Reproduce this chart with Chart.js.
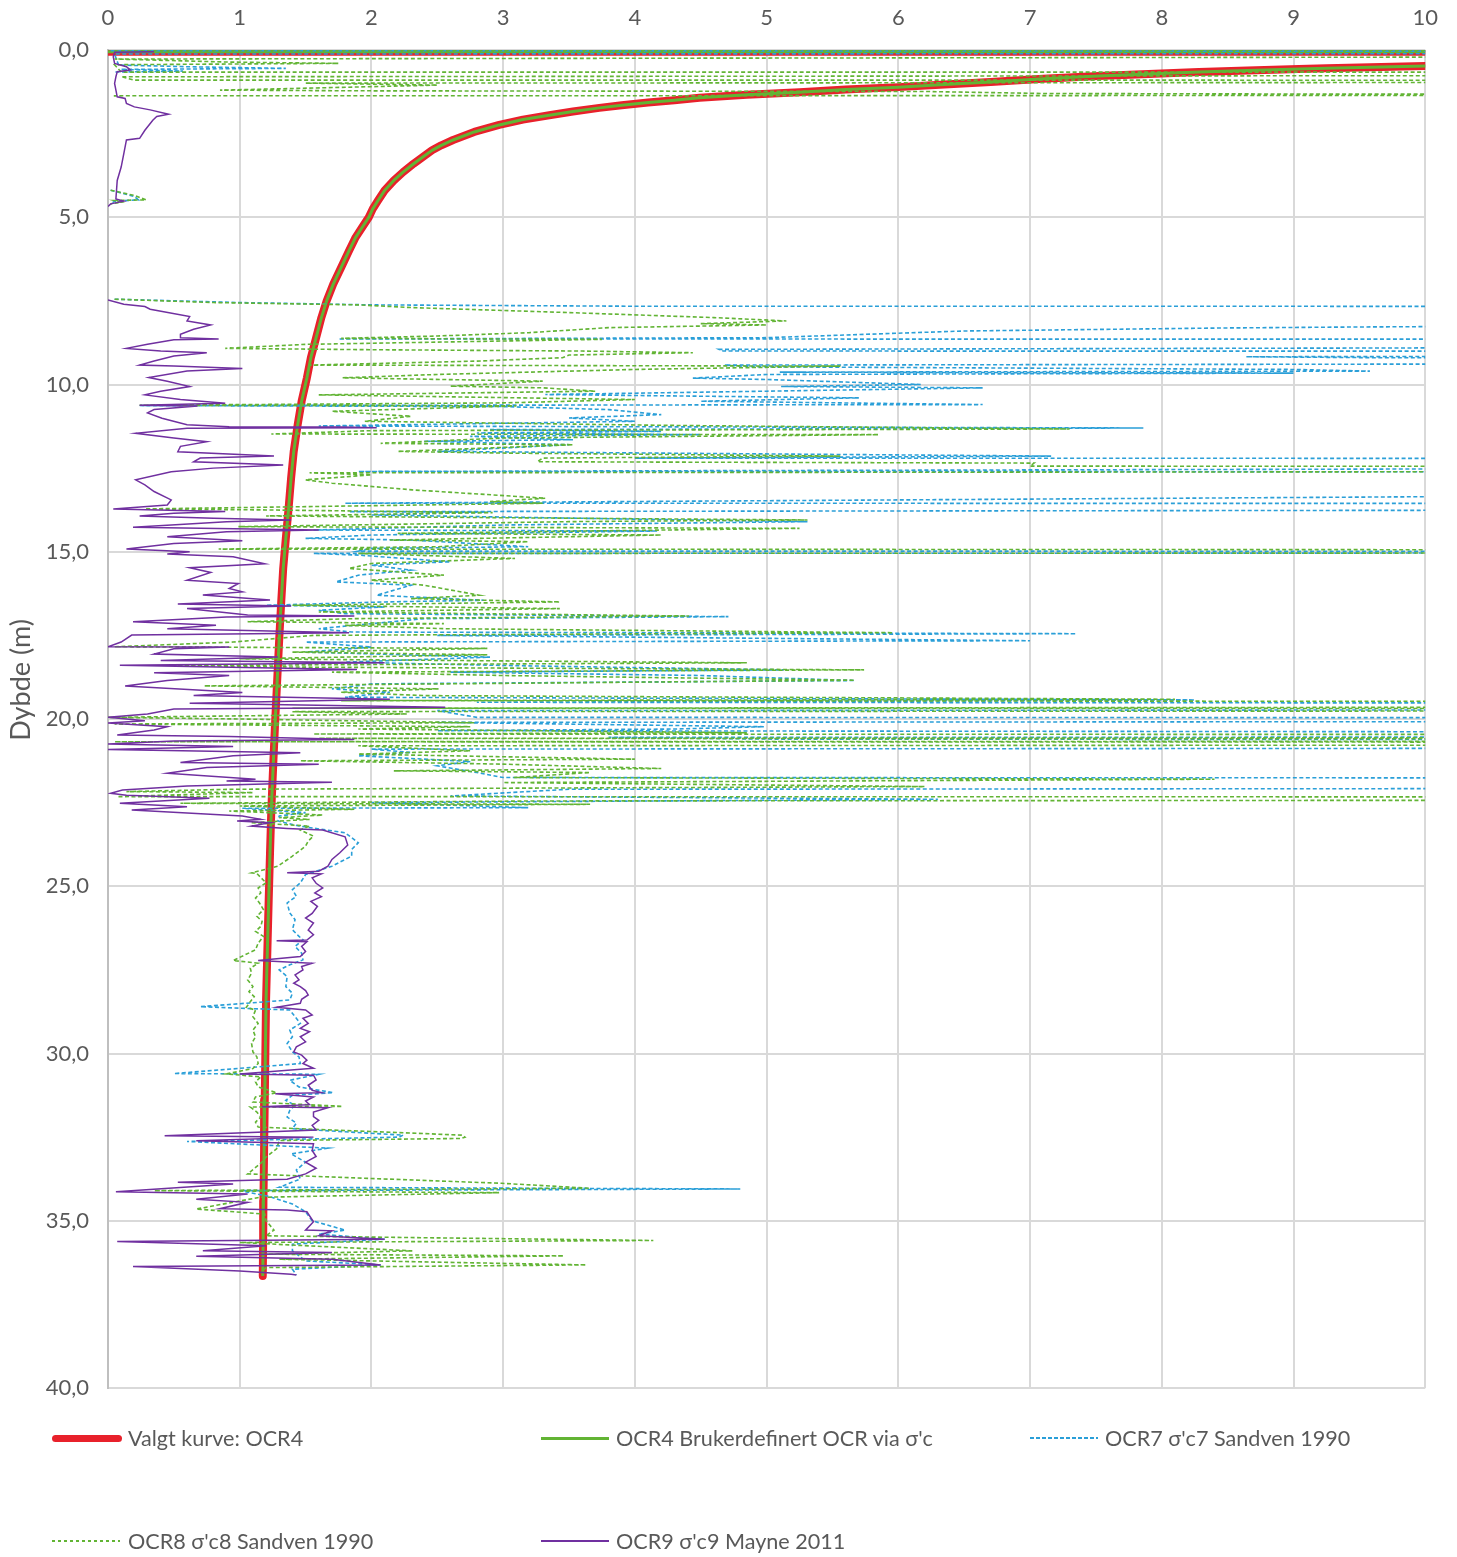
<!DOCTYPE html>
<html><head><meta charset="utf-8">
<script src="https://cdn.jsdelivr.net/npm/chart.js@4.4.1/dist/chart.umd.min.js"></script>
<style>
html,body{margin:0;padding:0;background:#fff;}
#wrap{position:relative;width:1457px;height:1557px;overflow:hidden;}
canvas{position:absolute;left:0;top:0;}
.lt{position:absolute;font-family:Lato,'Open Sans',sans-serif;font-size:21.6px;color:#595959;white-space:nowrap;line-height:24px;}
.sw{position:absolute;}
#ytitle{position:absolute;left:-80px;top:664px;width:200px;text-align:center;font-family:Lato,'Open Sans',sans-serif;font-size:27px;line-height:32px;color:#595959;transform:rotate(-90deg);transform-origin:100px 16px;}
</style></head><body>
<div id="wrap">
<canvas id="c" width="1457" height="1557"></canvas>
<div id="ytitle">Dybde (m)</div>
<div class="sw" style="left:52px;top:1435px;width:70px;height:7px;border-radius:4px;background:#e8212b;"></div>
<div class="lt" style="left:128px;top:1426px;">Valgt kurve: OCR4</div>
<div class="sw" style="left:541px;top:1437px;width:68px;height:3px;background:#62b434;"></div>
<div class="lt" style="left:616px;top:1426px;">OCR4 Brukerdefinert OCR via σ'c</div>
<div class="sw" style="left:1030px;top:1437px;width:68px;height:2px;background:repeating-linear-gradient(to right,#2a9fd8 0 4px,transparent 4px 6px);"></div>
<div class="lt" style="left:1105px;top:1426px;">OCR7 σ'c7 Sandven 1990</div>
<div class="sw" style="left:52px;top:1540px;width:68px;height:2px;background:repeating-linear-gradient(to right,#62b434 0 3px,transparent 3px 6px);"></div>
<div class="lt" style="left:128px;top:1529px;">OCR8 σ'c8 Sandven 1990</div>
<div class="sw" style="left:541px;top:1540px;width:68px;height:2px;background:#7030a0;"></div>
<div class="lt" style="left:616px;top:1529px;">OCR9 σ'c9 Mayne 2011</div>
</div>
<script>
// ---- tick labels / axes ----
const xTicks = [0,1,2,3,4,5,6,7,8,9,10];
const depthTicks = [0,5,10,15,20,25,30,35,40];

// ---- series: [depth (m), OCR] ; null = gap ----
const ocr4Curve = [
 [0.05,0.0],[0.06,60],[0.48,10.0],[0.5,9.75],[0.52,9.5],[0.545,9.25],[0.57,9.04],[0.61,8.65],[0.66,8.28],[0.72,7.9],[0.78,7.52],
 [0.86,7.1],[0.96,6.7],[1.03,6.35],[1.11,6.0],[1.18,5.6],[1.26,5.25],[1.34,4.85],[1.43,4.49],[1.5,4.3],[1.57,4.1],[1.65,3.9],
 [1.73,3.73],[1.84,3.53],[1.95,3.35],[2.08,3.15],[2.24,2.97],[2.45,2.78],[2.69,2.62],[2.85,2.53],[3.0,2.46],[3.2,2.39],[3.4,2.32],
 [3.65,2.24],[3.9,2.17],[4.2,2.1],[4.5,2.05],[4.75,2.01],[5.0,1.98],[5.3,1.93],[5.6,1.88],[6.0,1.83],[6.5,1.77],[7.0,1.71],
 [7.5,1.66],[8.0,1.62],[8.6,1.58],[9.2,1.54],[9.8,1.51],[10.5,1.47],[11.2,1.44],[12.0,1.41],[12.8,1.39],[13.75,1.37],[14.6,1.35],
 [15.5,1.33],[16.5,1.315],[17.6,1.30],[18.8,1.285],[20.0,1.27],[21.3,1.255],[22.7,1.24],[24.0,1.23],[25.4,1.22],[26.9,1.21],
 [28.4,1.20],[29.9,1.195],[31.4,1.19],[32.9,1.185],[34.4,1.18],[35.5,1.178],[36.65,1.175]
];

const ocr7 = [
 [0.02,0.02],[0.08,40],[0.12,0.05],[0.45,0.08],[0.5,0.6],[0.55,1.35],[0.58,0.1],[0.63,0.57],[0.66,0.05], null,
 [4.19,0.02],[4.38,0.2],[4.48,0.23],[4.52,0.05],[4.6,0.02], null,
 [7.45,0.05],[7.55,1.0],[7.62,2.0],[7.66,4.0],[7.68,40],[8.28,9.5],[8.31,8.47],[8.4,6.5],[8.6,5.0],[8.64,1.75],[8.66,40],
 [8.95,4.64],[9.0,4.67],[9.02,40],[9.17,8.64],[9.2,9.65],[9.22,40],[9.42,4.68],[9.47,4.9],[9.55,9.0],[9.6,9.58],[9.63,5.1],
 [9.66,9.0],[9.7,5.0],[9.81,4.44],[9.85,5.0],[10.0,6.17],[10.06,5.11],[10.1,6.64],[10.2,5.0],[10.3,3.32],[10.4,5.7],[10.5,4.5],
 [10.6,6.64],[10.63,0.24],[10.66,3.0],[10.75,3.8],[10.9,4.2],[11.0,3.5],[11.1,4.0],[11.24,1.6],[11.3,7.86],[11.35,2.9],[11.4,4.2],
 [11.45,2.8],[11.5,4.5],[11.55,2.75],[11.65,3.53],[11.7,2.4],[11.8,3.5],[12.0,2.5],[12.14,7.16],[12.2,4.0],[12.25,40],[12.6,1.9],
 [12.64,40],[13.55,1.8],[13.57,40],[13.62,40],[13.8,1.83],[13.82,2.88],[13.9,2.0],[14.05,4.4],[14.1,5.31],[14.2,3.0],[14.35,1.56],
 [14.38,4.17],[14.5,2.0],[14.6,1.5],[14.65,2.3],[14.85,3.19],[14.9,2.0],[14.98,1.9],[15.0,40],[15.05,1.56],[15.1,1.9],[15.3,2.6],
 [15.4,2.0],[15.55,2.3],[15.7,1.9],[15.9,1.73],[16.0,2.3],[16.3,2.04],[16.45,2.85],[16.5,2.1],[16.6,1.2],[16.65,2.1],[16.75,1.6],
 [16.85,1.8],[16.94,4.71],[17.0,2.4],[17.3,1.6],[17.4,1.85],[17.45,7.35],[17.5,2.5],[17.66,7.0],[17.7,1.5],[17.85,2.0],[18.0,1.5],
 [18.15,2.9],[18.3,1.8],[18.4,3.0],[18.53,5.13],[18.6,2.6],[18.7,4.5],[18.85,5.67],[18.95,2.0],[19.1,1.7],[19.2,2.14],[19.35,1.8],
 [19.43,8.25],[19.5,2.8],[19.6,40],[19.65,40],[19.75,2.5],[19.95,2.8],[20.0,40],[20.1,2.5],[20.23,4.98],[20.3,4.3],[20.35,2.5],
 [20.5,40],[20.55,3.8],[20.6,4.98],[20.7,40],[20.8,40],[20.9,2.0],[21.0,2.3],[21.1,1.9],[21.27,2.75],[21.4,2.5],[21.6,2.8],
 [21.75,3.0],[21.8,40],[22.0,40],[22.1,3.5],[22.3,2.6],[22.4,6.3],[22.5,2.0],[22.65,3.19],[22.67,1.02],[22.8,1.5],[22.9,1.3],
 [23.05,1.29],[23.2,1.45],[23.4,1.8],[23.55,1.85],[23.7,1.9],[23.9,1.85],[24.1,1.85],[24.4,1.7],[24.65,1.5],[24.9,1.46],[25.1,1.4],
 [25.3,1.43],[25.5,1.36],[25.8,1.38],[26.0,1.42],[26.3,1.4],[26.5,1.45],[26.6,1.48],[26.8,1.42],[27.0,1.47],[27.2,1.48],[27.35,1.38],
 [27.5,1.3],[27.7,1.36],[28.0,1.35],[28.2,1.4],[28.4,1.38],[28.6,0.7],[28.7,1.38],[28.9,1.42],[29.1,1.46],[29.3,1.38],[29.5,1.4],
 [29.7,1.36],[29.95,1.4],[30.1,1.45],[30.3,1.46],[30.6,0.5],[30.62,1.6],[30.8,1.38],[31.0,1.45],[31.17,1.71],[31.25,1.4],[31.4,1.35],
 [31.55,1.42],[31.7,1.38],[31.9,1.36],[32.08,1.43],[32.25,1.4],[32.44,2.24],[32.5,2.21],
 [32.63,0.6],[32.83,1.67],[33.0,1.39],[33.25,1.5],[33.48,1.43],[33.75,1.46],[34.0,1.3],[34.05,4.8],[34.1,1.0],[34.28,1.23],[34.5,1.4],
 [34.73,1.5],[35.0,1.55],[35.28,1.8],[35.4,1.6],[35.55,2.1],[35.7,1.4],[35.9,1.4],[36.2,1.5],[36.32,2.07],[36.45,1.4],[36.62,1.43]
];

const ocr8 = [
 [0.0,0.05],[0.04,40],[0.27,0.05],[0.36,0.9],[0.4,1.75],[0.44,0.05],[0.66,0.1],[0.67,40],[0.8,0.1],[0.9,0.2],[0.91,40],[0.99,1.5],
 [1.05,2.5],[1.2,0.85],[1.22,1.9],[1.24,6.2],[1.3,7.1],[1.32,9.5],[1.33,40],[1.37,0.05],[1.4,0.05], null,
 [4.19,0.02],[4.35,0.2],[4.48,0.29],[4.5,0.05],[4.55,0.1],[4.6,0.02], null,
 [7.45,0.05],[7.55,0.8],[7.62,1.9],[7.7,2.3],[7.85,3.5],[8.0,4.6],[8.1,5.15],[8.18,4.5],[8.22,5.0],[8.3,3.8],[8.45,3.2],[8.55,2.5],
 [8.62,1.77],[8.65,3.75],[8.8,1.5],[8.92,0.89],[8.96,2.0],[9.0,3.6],[9.05,4.44],[9.12,3.5],[9.2,3.45],[9.3,2.8],[9.42,1.53],[9.45,5.56],
 [9.55,4.0],[9.7,2.5],[9.8,1.78],[9.9,3.3],[10.05,2.6],[10.1,3.3],[10.2,3.7],[10.31,1.6],[10.45,4.0],[10.55,3.0],[10.62,0.24],[10.64,3.1],
 [10.8,1.7],[10.95,2.3],[11.1,1.95],[11.22,4.2],[11.33,7.3],[11.38,2.0],[11.48,1.24],[11.5,5.85],[11.6,3.0],[11.76,2.07],[11.8,3.53],
 [12.0,2.2],[12.05,3.0],[12.14,5.56],[12.2,3.3],[12.31,3.26],[12.35,7.03],[12.44,7.0],[12.5,40],[12.64,1.53],[12.7,2.0],[12.85,1.5],
 [12.95,1.7],[13.15,2.31],[13.4,3.32],[13.5,2.9],[13.55,3.3],[13.72,0.28],[13.75,1.2],[13.83,2.92],[13.93,1.2],[14.05,5.31],[14.1,3.5],
 [14.25,0.99],[14.3,5.25],[14.35,4.24],[14.45,2.2],[14.5,4.2],[14.65,2.14],[14.7,3.19],[14.85,2.5],[14.92,0.84],[15.0,40],[15.05,1.9],
 [15.2,3.09],[15.35,2.0],[15.5,1.83],[15.7,2.55],[15.85,2.0],[16.0,2.4],[16.3,2.82],[16.4,2.3],[16.5,3.43],[16.6,1.4],[16.64,2.24],
 [16.7,3.43],[16.8,1.6],[16.92,4.41],[17.0,1.87],[17.09,1.06],[17.15,2.55],[17.2,1.8],[17.3,2.55],[17.42,5.96],[17.5,1.56],[17.7,0.95],
 [17.84,0.05],[17.89,2.88],[18.0,1.4],[18.08,2.88],[18.2,1.0],[18.32,4.85],[18.4,0.5],[18.45,1.5],[18.53,5.74],[18.6,1.7],[18.7,3.0],
 [18.84,5.67],[18.95,2.55],[19.01,0.73],[19.1,2.51],[19.2,1.77],[19.3,2.4],[19.41,8.1],[19.45,1.77],[19.55,40],[19.68,1.4],[19.7,40],
 [19.78,1.4],[19.85,2.27],[19.95,0.0],[20.0,1.0],[20.11,2.78],[20.15,0.05],[20.23,2.75],[20.3,1.9],[20.41,4.85],[20.45,1.56],[20.5,40],
 [20.58,1.6],[20.63,40],[20.68,0.05],[20.72,40],[20.8,1.9],[20.95,2.75],[21.05,1.9],[21.2,4.0],[21.25,1.46],[21.35,3.0],[21.48,4.2],
 [21.55,2.17],[21.6,3.66],[21.75,3.08],[21.8,8.4],[21.9,3.0],[22.02,6.2],[22.1,0.95],[22.17,0.14],[22.2,1.1],[22.32,0.07],[22.35,40],
 [22.45,3.3],[22.52,0.55],[22.55,3.66],[22.6,1.0],[22.7,1.87],[22.75,0.92],[22.87,1.63],[22.95,1.3],[23.0,1.53],[23.1,1.09],[23.2,1.53],
 [23.32,1.46],[23.5,1.56],[23.65,1.52],[23.8,1.5],[24.1,1.4],[24.4,1.29],[24.6,1.09],[24.62,1.13],[24.9,1.2],[25.05,1.14],[25.2,1.16],
 [25.35,1.12],[25.5,1.15],[25.7,1.18],[25.9,1.13],[26.05,1.17],[26.2,1.16],[26.35,1.12],[26.5,1.18],[26.7,1.14],[26.9,1.12],[27.22,0.95],
 [27.3,1.14],[27.45,1.08],[27.6,1.09],[27.8,1.06],[28.0,1.1],[28.15,1.07],[28.3,1.11],[28.45,1.08],[28.62,1.05],[28.7,1.12],[28.9,1.1],
 [29.1,1.14],[29.3,1.1],[29.5,1.12],[29.7,1.09],[29.95,1.1],[30.1,1.13],[30.3,1.14],[30.45,1.1],[30.61,0.9],[30.7,1.16],[30.85,1.12],
 [31.0,1.14],[31.17,1.28],[31.3,1.12],[31.45,1.1],[31.58,1.78],[31.6,1.08],[31.75,1.13],[31.9,1.16],[32.05,1.12],[32.2,1.14],
 [32.44,2.69],[32.5,2.71],[32.54,2.68],[32.6,1.3],[32.85,1.28],[33.1,1.2],[33.28,1.16],[33.6,1.06],[33.88,2.99],
 [34.03,3.66],[34.1,0.35],[34.16,2.97],[34.3,1.15],[34.65,0.67],[34.8,1.19],[35.0,1.2],[35.28,1.26],[35.45,1.2],[35.59,4.14],[35.65,1.0],
 [35.9,2.31],[36.0,1.2],[36.05,3.46],[36.15,1.3],[36.32,3.63],[36.4,1.2],[36.57,1.16]
];

const ocr9 = [
 [0.05,0.35],[0.07,0.05],[0.2,0.04],[0.4,0.05],[0.5,0.14],[0.6,0.17],[0.65,0.07],[0.8,0.06],[1.0,0.05],[1.2,0.06],[1.4,0.07],[1.45,0.13],
 [1.6,0.14],[1.7,0.2],[1.79,0.32],[1.92,0.46],[1.99,0.37],[2.1,0.34],[2.4,0.28],[2.64,0.24],[2.69,0.14],[3.1,0.12],[3.5,0.1],[3.9,0.07],
 [4.45,0.06],[4.52,0.12],[4.6,0.02],[4.68,0.0], null,
 [7.47,0.0],[7.6,0.12],[7.67,0.28],[7.75,0.32],[7.97,0.62],[8.1,0.6],[8.22,0.78],[8.35,0.65],[8.5,0.55],[8.6,0.55],[8.64,0.84],[8.66,0.5],
 [8.8,0.3],[8.92,0.14],[9.0,0.4],[9.05,0.75],[9.15,0.5],[9.3,0.35],[9.42,0.24],[9.45,0.5],[9.52,1.02],[9.6,0.6],[9.79,0.31],[9.9,0.45],
 [10.06,0.62],[10.2,0.4],[10.31,0.28],[10.45,0.55],[10.56,0.89],[10.62,0.24],[10.64,0.68],[10.75,0.35],[10.85,0.3],[11.01,0.41],[11.2,0.6],
 [11.26,0.92],[11.27,1.77],[11.29,2.04],[11.31,0.6],[11.46,0.21],[11.6,0.5],[11.71,0.75],[11.85,0.55],[12.01,0.53],[12.14,1.26],[12.2,0.7],
 [12.31,0.65],[12.41,1.33],[12.5,0.8],[12.61,0.48],[12.85,0.21],[13.0,0.28],[13.2,0.35],[13.45,0.48],[13.6,0.45],[13.72,0.04],[13.8,0.89],
 [13.85,0.5],[13.93,0.24],[14.0,0.8],[14.05,1.39],[14.1,0.9],[14.27,0.19],[14.35,1.6],[14.4,0.9],[14.55,0.45],[14.67,1.02],[14.75,0.5],
 [14.92,0.14],[15.0,0.62],[15.07,0.45],[15.15,0.95],[15.36,1.19],[15.48,0.62],[15.62,0.78],[15.85,0.6],[15.95,0.99],[16.1,0.92],[16.2,1.02],
 [16.29,0.72],[16.44,1.23],[16.56,0.53],[16.62,1.39],[16.7,0.6],[16.89,1.06],[16.92,1.87],[16.95,0.9],[17.09,0.19],[17.2,0.82],[17.3,0.45],
 [17.42,1.83],[17.49,0.18],[17.7,0.1],[17.84,0.0],[17.85,0.92],[17.9,0.5],[18.06,0.35],[18.15,1.29],[18.25,0.4],[18.32,2.1],[18.39,0.09],
 [18.52,1.89],[18.62,0.35],[18.7,0.92],[18.85,0.45],[19.01,0.13],[19.21,1.02],[19.3,0.65],[19.41,2.14],[19.53,0.62],[19.65,2.56],[19.7,0.5],
 [19.85,0.3],[19.95,0.0],[20.05,0.28],[20.12,0.0],[20.23,0.45],[20.33,0.35],[20.48,0.07],[20.52,0.92],[20.61,1.87],[20.66,0.5],[20.75,0.0],
 [20.82,0.95],[20.91,0.0],[21.01,1.46],[21.1,0.95],[21.3,0.55],[21.35,1.6],[21.45,0.75],[21.62,0.45],[21.8,1.12],[21.85,0.9],[21.89,1.7],
 [22.0,0.6],[22.12,0.11],[22.22,0.02],[22.28,0.14],[22.37,0.77],[22.52,0.09],[22.62,0.6],[22.72,0.18],[22.9,1.02],[23.0,1.16],[23.05,0.98],
 [23.1,1.23],[23.2,1.09],[23.27,1.36],[23.32,1.63],[23.52,1.8],[23.77,1.82],[24.0,1.76],[24.2,1.7],[24.4,1.67],[24.55,1.6],[24.6,1.36],
 [24.63,1.62],[24.75,1.55],[24.91,1.58],[25.05,1.63],[25.2,1.57],[25.31,1.62],[25.45,1.54],[25.6,1.59],[25.81,1.55],[25.95,1.5],[26.1,1.56],
 [26.31,1.52],[26.45,1.56],[26.61,1.51],[26.63,1.28],[26.66,1.51],[26.8,1.47],[26.95,1.5],[27.1,1.46],[27.22,1.14],[27.3,1.55],[27.4,1.47],
 [27.5,1.48],[27.65,1.42],[27.8,1.45],[27.9,1.41],[28.0,1.46],[28.12,1.5],[28.25,1.52],[28.38,1.47],[28.5,1.46],[28.62,1.28],[28.7,1.5],
 [28.85,1.55],[28.95,1.48],[29.1,1.52],[29.25,1.46],[29.35,1.53],[29.5,1.46],[29.65,1.5],[29.8,1.43],[29.95,1.41],[30.05,1.47],[30.2,1.51],
 [30.3,1.48],[30.44,1.56],[30.61,1.0],[30.65,1.56],[30.79,1.58],[30.95,1.52],[31.1,1.55],[31.17,1.62],[31.2,1.27],[31.3,1.56],[31.42,1.5],
 [31.53,1.53],[31.59,1.17],[31.62,1.67],[31.75,1.56],[31.89,1.56],[32.0,1.6],[32.15,1.55],[32.29,1.58],
 [32.46,0.43],[32.5,1.56],[32.61,0.67],[32.7,1.56],[32.9,1.55],[33.08,1.58],[33.25,1.5],[33.43,1.58],[33.6,1.5],
 [33.76,1.36],[33.85,0.53],[33.9,0.95],[34.13,0.06],[34.2,1.06],[34.36,0.67],[34.45,1.06],[34.64,0.85],[34.68,1.36],[34.73,1.51],[35.03,1.56],
 [35.28,1.5],[35.3,1.7],[35.45,1.6],[35.55,2.1],[35.62,0.07],[35.75,1.2],[35.9,0.72],[35.95,1.7],[36.06,0.67],[36.15,1.7],[36.32,2.07],
 [36.37,0.19],[36.5,1.0],[36.6,1.39],[36.62,1.43]
];

const toXY = arr => arr.map(p => p === null ? {x:null, y:null} : {x:p[1], y:p[0]});

const base = {showLine:true, pointRadius:0, pointHoverRadius:0, fill:false, tension:0, spanGaps:false};
const FONT = "Lato, 'Open Sans', sans-serif";

new Chart(document.getElementById('c'), {
  type:'scatter',
  data:{datasets:[
    Object.assign({}, base, {label:'Valgt kurve: OCR4', data:toXY(ocr4Curve), borderColor:'#e8212b', borderWidth:8, borderCapStyle:'round', borderJoinStyle:'round', order:5}),
    Object.assign({}, base, {label:'OCR4 Brukerdefinert OCR via σ\'c', data:toXY(ocr4Curve), borderColor:'#62b434', borderWidth:3, borderJoinStyle:'round', order:4}),
    Object.assign({}, base, {label:'OCR7 σ\'c7 Sandven 1990', data:toXY(ocr7), borderColor:'#2a9fd8', borderWidth:1.6, borderDash:[4,2.5], order:3}),
    Object.assign({}, base, {label:'OCR8 σ\'c8 Sandven 1990', data:toXY(ocr8), borderColor:'#62b434', borderWidth:1.6, borderDash:[4,2.5], order:2}),
    Object.assign({}, base, {label:'OCR9 σ\'c9 Mayne 2011', data:toXY(ocr9), borderColor:'#7030a0', borderWidth:1.5, order:1})
  ]},
  options:{
    responsive:false, animation:false, devicePixelRatio:1,
    layout:{padding:{left:0,right:30,top:0,bottom:169}},
    plugins:{legend:{display:false}, tooltip:{enabled:false}},
    scales:{
      x:{type:'linear', position:'top', min:0, max:10,
         afterBuildTicks(s){ s.ticks = xTicks.map(v=>({value:v})); },
         ticks:{color:'#595959', font:{family:FONT, size:22}, padding:19, maxRotation:0},
         grid:{color:'#d9d9d9', lineWidth:2, drawTicks:false},
         border:{display:false},
         afterFit(s){ s.height = 50; }},
      y:{type:'linear', reverse:true, min:0, max:40,
         afterBuildTicks(s){ s.ticks = depthTicks.map(v=>({value:v})); },
         ticks:{color:'#595959', font:{family:FONT, size:22}, padding:19, callback:v=>v.toFixed(1).replace('.',',')},
         grid:{color:'#d9d9d9', lineWidth:2, drawTicks:false},
         border:{display:true, color:'#bfbfbf', width:2},
         title:{display:false},
         afterFit(s){ s.width = 108; }}
    }
  }
});
</script>
</body></html>
